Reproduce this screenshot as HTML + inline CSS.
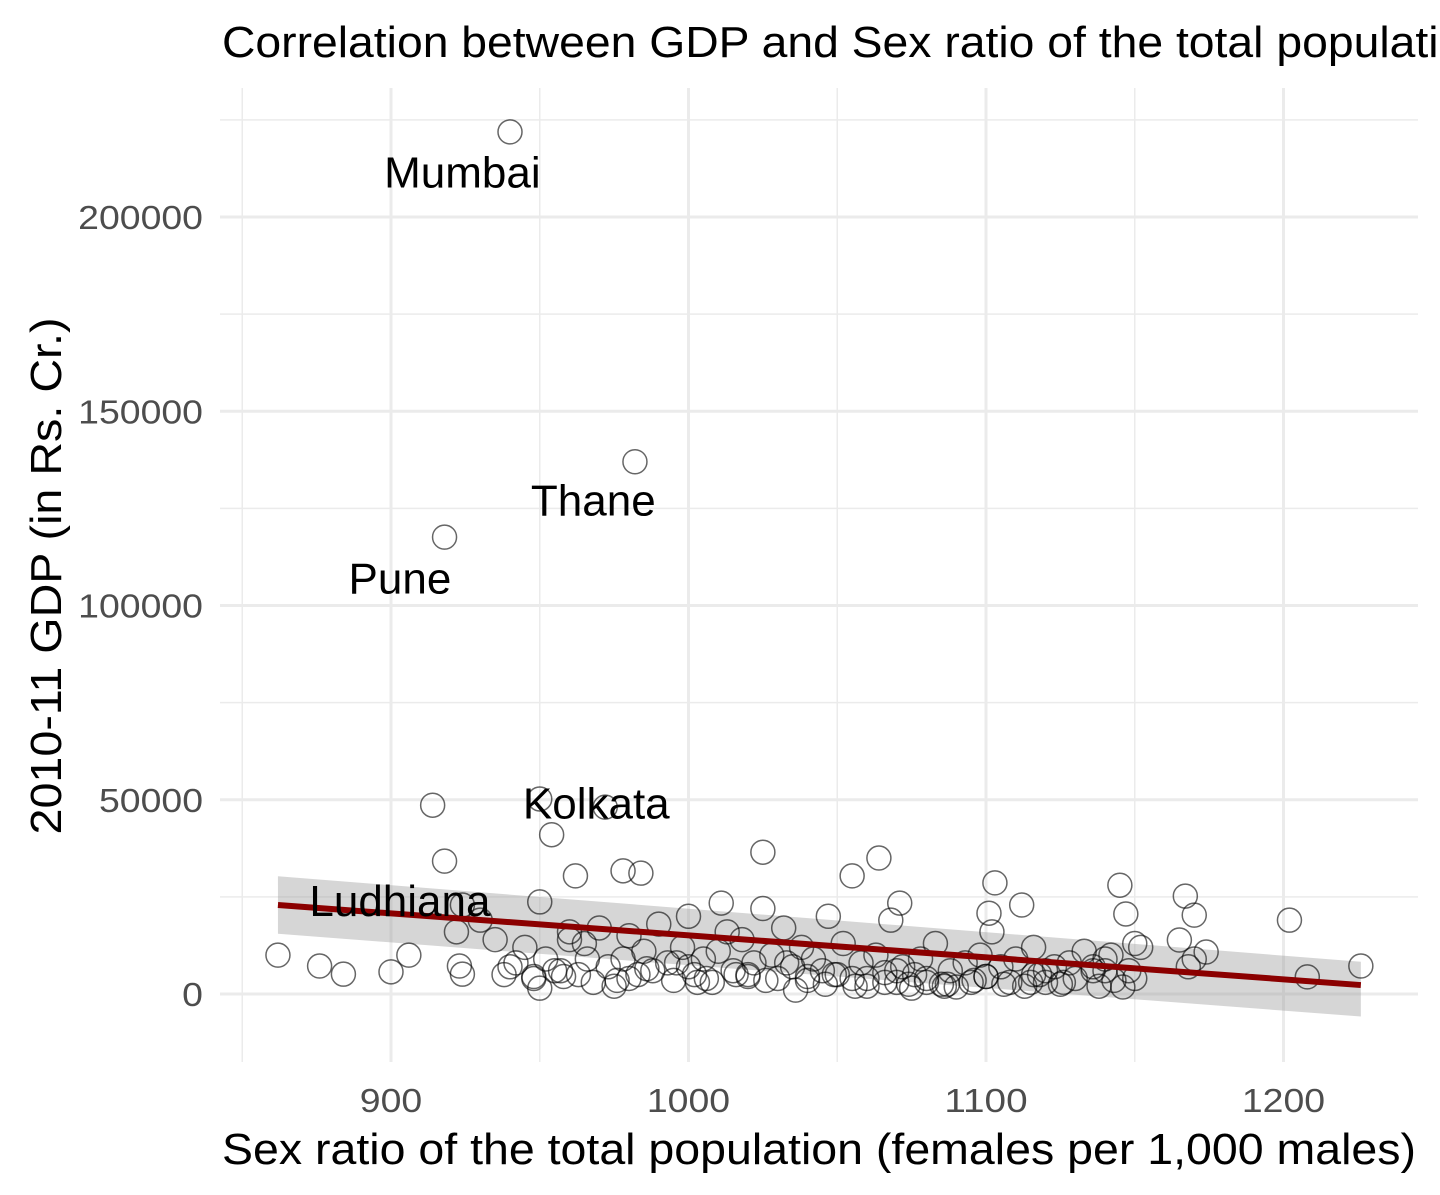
<!DOCTYPE html>
<html><head><meta charset="utf-8">
<style>
html,body{margin:0;padding:0;background:#fff;overflow:hidden;}
svg{display:block;font-family:"Liberation Sans",Arial,sans-serif;}
</style></head>
<body>
<svg id="chart" width="1440" height="1195" viewBox="0 0 1440 1195" xmlns="http://www.w3.org/2000/svg">
<text x="222" y="57" font-size="44" textLength="1268" lengthAdjust="spacingAndGlyphs" fill="#000">Correlation between GDP and Sex ratio of the total population</text>
<g id="grid"></g>
<g id="band"></g>
<g id="points"></g>
<g id="fit"></g>
<g id="labels"></g>
<g id="ticks"></g>
<text x="222" y="1164" font-size="44" textLength="1194" lengthAdjust="spacingAndGlyphs" fill="#000">Sex ratio of the total population (females per 1,000 males)</text>
<text transform="translate(61,576) rotate(-90)" font-size="44" text-anchor="middle" textLength="517" lengthAdjust="spacingAndGlyphs" fill="#000">2010-11 GDP (in Rs. Cr.)</text>
</svg>
<script>
const sexRatio = [
 862,876,884,900,906,914,918,918,922,923,
 924,924,940,950,954,950,962,972,978,984,
 982,1025,1011,1055,1064,1071,1103,1101,1112,1145,
 1147,1167,1170,1202,1208,1226,1174,1165,930,935,
 938,942,945,948,950,952,955,958,960,963,
 965,968,970,973,975,978,980,983,985,988,
 990,993,995,998,1000,1002,1005,1008,1010,1013,
 1015,1018,1020,1022,1025,1028,1030,1032,1035,1038,
 1040,1042,1045,1047,1050,1052,1055,1058,1060,1063,
 1066,1068,1070,1072,1075,1078,1080,1083,1085,1088,
 1090,1093,1095,1098,1100,1102,1105,1108,1110,1113,
 1116,1118,1120,1123,1125,1128,1130,1133,1136,1138,
 1140,1143,1146,1148,1150,1152,1168,1170,948,957,
 966,976,986,996,1006,1016,1026,1036,1046,1056,
 1066,1076,1086,1096,1106,1116,1126,1136,1142,1150,
 940,960,980,1000,1020,1040,1060,1080,1100,1120,
 1140,1003,1033,1049,1070,1074,1115,1087];
const gdp = [
 10000,7200,5100,5700,10000,48600,34200,117600,16000,7200,
 5100,22900,221900,50200,41000,23700,30400,48100,31700,31100,
 137000,36500,23400,30400,35000,23400,28600,20800,22900,28000,
 20600,25200,20300,19000,4400,7200,10800,13900,19000,14000,
 5000,8000,12000,4000,1500,9000,6000,4500,16000,5000,
 13000,3000,17000,7000,2000,9000,15000,5000,11000,6000,
 18000,8000,3500,12000,20000,5000,9000,3000,11000,16000,
 6000,14000,5000,8000,22000,10000,4000,17000,7000,12000,
 3500,9000,6000,20000,5000,13000,4000,8000,2000,10000,
 5500,19000,3000,7000,1500,9000,4000,13000,2500,6000,
 1800,8000,3000,10000,4500,16000,7000,3000,9000,2000,
 12000,5000,3000,7000,2500,8000,4000,11000,6000,2000,
 9000,3500,1800,6000,4000,12000,7000,9000,4500,6000,
 9000,3500,6500,8000,4000,5000,3500,1000,2500,2000,
 3000,5000,2000,3500,2500,5000,3000,7000,10000,13000,
 7000,14000,4000,7000,4500,4500,4000,3000,4500,6000,
 6000,3000,8000,5000,6000,2500,3000,2500];
const xTicks = [900,1000,1100,1200];
const xTickLabels = ["900","1000","1100","1200"];
const yTicks = [0,50000,100000,150000,200000];
const yTickLabels = ["0","50000","100000","150000","200000"];
const fitX = [862,1226];
const fitY = [22900,2300];
const fitLo = [15500,-5800];
const fitHi = [30300,8300];
const cityNames = ["Mumbai","Thane","Pune","Kolkata","Ludhiana"];
const cityX = [924,968,903,969,903];
const cityY = [211500,127000,107000,49000,24000];

const X = v => 391 + (v-900)*2.975;
const Y = v => 994 - v*0.003885;
const NS="http://www.w3.org/2000/svg";
function mk(tag, parent, attrs){const e=document.createElementNS(NS,tag);for(const k in attrs)e.setAttribute(k,attrs[k]);document.getElementById(parent).appendChild(e);return e;}

[850,950,1050,1150].forEach(v=>{const l=mk('line','grid',{x1:X(v),x2:X(v),y1:88,y2:1062,stroke:'#ebebeb','stroke-width':1.5});

});
[25000,75000,125000,175000,225000].forEach(v=>{const l=mk('line','grid',{x1:220,x2:1418,y1:Y(v),y2:Y(v),stroke:'#ebebeb','stroke-width':1.5});

});
xTicks.forEach((v,i)=>{const l=mk('line','grid',{x1:X(v),x2:X(v),y1:88,y2:1062,stroke:'#ebebeb','stroke-width':3});


const s=xTickLabels[i];
const t=mk('text','ticks',{x:X(v),y:1112,'font-size':33,'text-anchor':'middle',fill:'#4d4d4d',textLength:s.length*20.8,lengthAdjust:'spacingAndGlyphs'});t.textContent=s;

});
yTicks.forEach((v,i)=>{const l=mk('line','grid',{x1:220,x2:1418,y1:Y(v),y2:Y(v),stroke:'#ebebeb','stroke-width':3});


const s=yTickLabels[i];
const t=mk('text','ticks',{x:203,y:Y(v)+12,'font-size':33,'text-anchor':'end',fill:'#4d4d4d',textLength:s.length*20.8,lengthAdjust:'spacingAndGlyphs'});t.textContent=s;

});

const b=mk('polygon','band',{points:`${X(fitX[0])},${Y(fitHi[0])} ${X(fitX[1])},${Y(fitHi[1])} ${X(fitX[1])},${Y(fitLo[1])} ${X(fitX[0])},${Y(fitLo[0])}`,fill:'#999',opacity:0.4});



const n=Math.min(sexRatio.length,gdp.length);
for(let i=0;i<n;i++){const c=mk('circle','points',{cx:X(sexRatio[i]),cy:Y(gdp[i]),r:12,fill:'none',stroke:'#000','stroke-opacity':0.6,'stroke-width':1.5});

}

const f=mk('line','fit',{x1:X(fitX[0]),y1:Y(fitY[0]),x2:X(fitX[1]),y2:Y(fitY[1]),stroke:'#8b0000','stroke-width':6});



cityNames.forEach((nm,i)=>{const t=mk('text','labels',{x:X(cityX[i]),y:Y(cityY[i])+15,'font-size':44,'text-anchor':'middle',fill:'#000'});t.textContent=nm;

});
</script>
</body></html>
